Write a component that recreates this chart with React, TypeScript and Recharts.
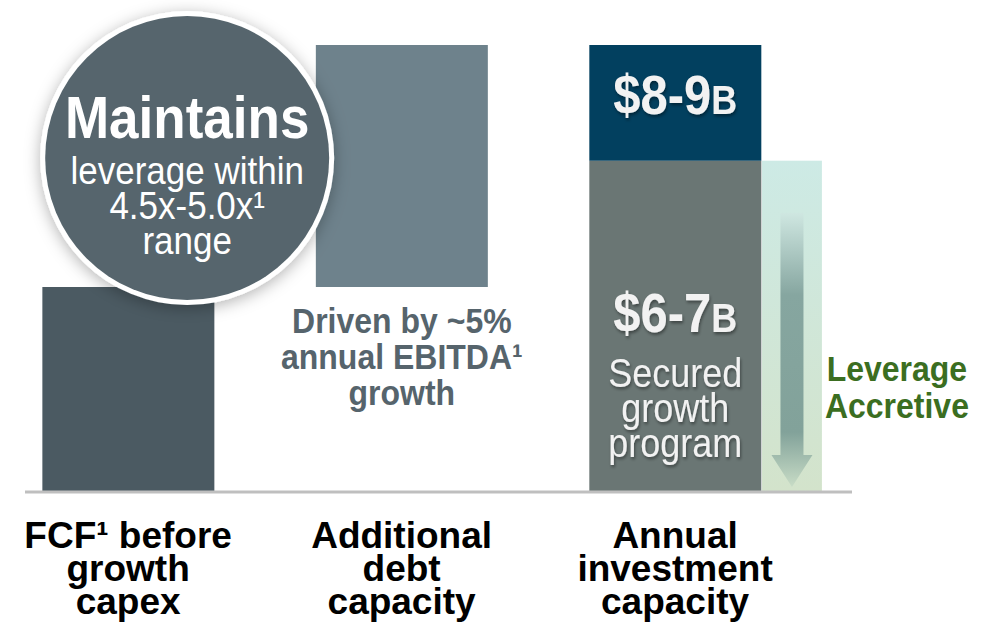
import { BarChart, Bar, XAxis, YAxis, LabelList, ReferenceArea, ReferenceDot } from "recharts";

// category positions on a numeric x axis (one unit per column)
const positions = [0.5, 1.5, 2.5];
const categoryLines = [
  ["FCF¹ before", "growth", "capex"],
  ["Additional", "debt", "capacity"],
  ["Annual", "investment", "capacity"],
];

// $B
const baseValues = [0, 3.9, 0]; // invisible offset for the waterfall step
const fcfValues = [3.9, 0, 0];
const debtValues = [0, 4.6, 0];
const securedValues = [0, 0, 6.3];
const extraValues = [0, 0, 2.2];

const debtNote = ["Driven by ~5%", "annual EBITDA¹", "growth"];
const securedNote = ["Secured", "growth", "program"];
const circleLines = ["leverage within", "4.5x-5.0x¹", "range"];

// teal "leverage accretive" panel beside the last bar
const panelX = [2.818, 3.037];
const circleAt = { x: 0.716, y: 6.35 };

const FONT = "'Liberation Sans', Arial, Helvetica, sans-serif";
const STRETCH = 1.12; // source text is a little taller than Arial

const data = positions.map((x, i) => ({
  x,
  base: baseValues[i],
  fcf: fcfValues[i],
  debt: debtValues[i],
  secured: securedValues[i],
  extra: extraValues[i],
}));

// multi-line centred text, stretched vertically around the first baseline
const Lines = ({ x, y, lines, gap, size, bold, fill, filter, s = STRETCH }: any) => (
  <g transform={`translate(${x},${y}) scale(1,${s})`}>
    <text
      textAnchor="middle"
      fontFamily={FONT}
      fontWeight={bold ? "bold" : "normal"}
      fontSize={size}
      fill={fill}
      filter={filter}
    >
      {lines.map((l: string, i: number) => (
        <tspan key={l + i} x={0} y={(i * gap) / s}>
          {l}
        </tspan>
      ))}
    </text>
  </g>
);

const CategoryTick = (props: any) => {
  const { x, y, payload } = props;
  const idx = positions.indexOf(payload.value);
  return <Lines x={x} y={y + 56} lines={categoryLines[idx] || []} gap={33} size={37} bold fill="#000" s={1.02} />;
};

const DebtLabel = (props: any) => {
  const { x, y, width, height, value } = props;
  if (!value) return null;
  return <Lines x={x + width / 2} y={y + height + 46} lines={debtNote} gap={36} size={32} bold fill="#56646c" />;
};

const BigAmount = ({ cx, y, text }: { cx: number; y: number; text: string }) => (
  <g transform={`translate(${cx},${y}) scale(1,1.15)`}>
    <text textAnchor="middle" fontFamily={FONT} fontWeight="bold" fill="#f2f2f2" filter="url(#txtShadow)">
      <tspan fontSize={49}>{text}</tspan>
      <tspan fontSize={36}>B</tspan>
    </text>
  </g>
);

const ExtraLabel = (props: any) => {
  const { x, y, width, value } = props;
  if (!value) return null;
  return <BigAmount cx={x + width / 2} y={y + 69} text="$8-9" />;
};

const SecuredLabel = (props: any) => {
  const { x, y, width, value } = props;
  if (!value) return null;
  const cx = x + width / 2;
  return (
    <g>
      <BigAmount cx={cx} y={y + 171} text="$6-7" />
      <Lines x={cx} y={y + 226} lines={securedNote} gap={35} size={36} fill="#f2f2f2" filter="url(#txtShadow)" />
    </g>
  );
};

const PanelShape = (props: any) => {
  const { x, y, width, height } = props;
  const cx = x + width / 2;
  const bottom = y + height;
  const shaftTop = y + 52;
  const headTop = bottom - 37;
  const tip = bottom - 5;
  return (
    <g>
      <rect x={x} y={y} width={width} height={height} fill="url(#panelGrad)" />
      <path
        d={`M${cx - 11.5},${shaftTop} L${cx + 11.5},${shaftTop} L${cx + 11.5},${headTop} L${cx + 20.5},${headTop} L${cx},${tip} L${cx - 20.5},${headTop} L${cx - 11.5},${headTop} Z`}
        fill="url(#arrowGrad)"
      />
      <Lines x={x + width + 75} y={bottom - 111} lines={["Leverage", "Accretive"]} gap={37} size={32} bold fill="#3b6e21" />
    </g>
  );
};

const CircleShape = (props: any) => {
  const { cx, cy } = props;
  return (
    <g>
      <circle cx={cx} cy={cy} r={147} fill="#ffffff" filter="url(#circleShadow)" />
      <circle cx={cx} cy={cy} r={142} fill="#56656d" />
      <Lines x={cx} y={cy - 20} lines={["Maintains"]} gap={0} size={53} bold fill="#ffffff" s={1.1} />
      <Lines x={cx} y={cy + 26} lines={circleLines} gap={35} size={35} fill="#ffffff" s={1.1} />
    </g>
  );
};

export default function App() {
  return (
    <div style={{ position: "absolute", left: 0, top: 0, width: 997, height: 622, background: "#fff" }}>
      <BarChart width={997} height={622} data={data} margin={{ top: 45, right: 145, left: 25, bottom: 0 }}>
        <defs>
          <linearGradient id="panelGrad" x1="0" y1="0" x2="0" y2="1">
            <stop offset="0%" stopColor="#cdeae5" />
            <stop offset="100%" stopColor="#d3e3cb" />
          </linearGradient>
          <linearGradient id="arrowGrad" x1="0" y1="0" x2="0" y2="1">
            <stop offset="0%" stopColor="#cfe7e1" />
            <stop offset="30%" stopColor="#86a6a0" />
            <stop offset="80%" stopColor="#82a29a" />
            <stop offset="100%" stopColor="#c8dcc6" />
          </linearGradient>
          <filter id="circleShadow" x="-20%" y="-20%" width="140%" height="140%">
            <feDropShadow dx="0" dy="3" stdDeviation="8" floodColor="#000" floodOpacity="0.3" />
          </filter>
          <filter id="txtShadow" x="-10%" y="-10%" width="120%" height="130%">
            <feDropShadow dx="1" dy="2" stdDeviation="1.5" floodColor="#000" floodOpacity="0.4" />
          </filter>
        </defs>
        <XAxis
          type="number"
          dataKey="x"
          domain={[0.123, 3.147]}
          ticks={positions}
          interval={0}
          axisLine={{ stroke: "#bfbfbf", strokeWidth: 3 }}
          tickLine={false}
          tickSize={0}
          tickMargin={0}
          height={130}
          tick={<CategoryTick />}
          allowDataOverflow
        />
        <YAxis hide domain={[0, 8.5]} />
        <Bar dataKey="base" stackId="s" fill="transparent" barSize={172} isAnimationActive={false} />
        <Bar dataKey="fcf" stackId="s" fill="#4b5a62" barSize={172} isAnimationActive={false} />
        <Bar dataKey="debt" stackId="s" fill="#6e828c" barSize={172} isAnimationActive={false}>
          <LabelList dataKey="debt" content={<DebtLabel />} />
        </Bar>
        <Bar dataKey="secured" stackId="s" fill="#6a7674" barSize={172} isAnimationActive={false}>
          <LabelList dataKey="secured" content={<SecuredLabel />} />
        </Bar>
        <Bar dataKey="extra" stackId="s" fill="#02405f" barSize={172} isAnimationActive={false}>
          <LabelList dataKey="extra" content={<ExtraLabel />} />
        </Bar>
        <ReferenceArea
          x1={panelX[0]}
          x2={panelX[1]}
          y1={0}
          y2={securedValues[2]}
          shape={<PanelShape />}
          ifOverflow="visible"
        />
        <ReferenceDot x={circleAt.x} y={circleAt.y} r={147} shape={<CircleShape />} ifOverflow="visible" />
      </BarChart>
    </div>
  );
}
